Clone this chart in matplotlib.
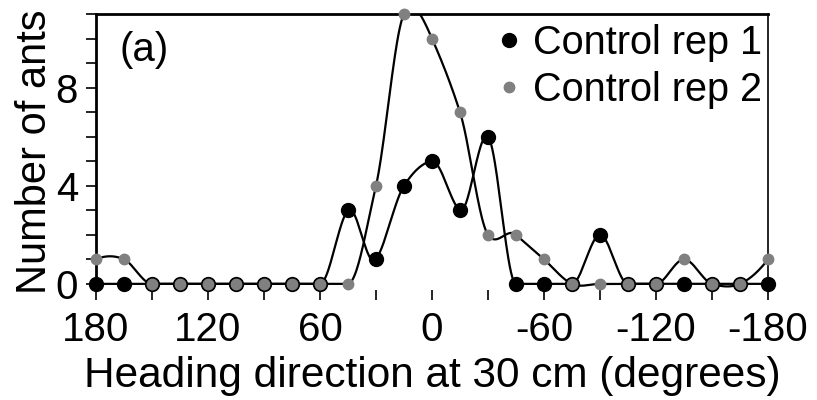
import numpy as np
import matplotlib
matplotlib.use("Agg")
import matplotlib.pyplot as plt
from matplotlib.ticker import MultipleLocator

plt.rcParams["font.family"] = ["Liberation Sans", "DejaVu Sans"]

# Data
heading = [180, 165, 150, 135, 120, 105, 90, 75, 60, 45, 30, 15, 0,
           -15, -30, -45, -60, -75, -90, -105, -120, -135, -150, -165, -180]
rep1 = [0, 0, 0, 0, 0, 0, 0, 0, 0, 3, 1, 4, 5, 3, 6, 0, 0, 0, 2, 0, 0, 0, 0, 0, 0]
rep2 = [1, 1, 0, 0, 0, 0, 0, 0, 0, 0, 4, 11, 10, 7, 2, 2, 1, 0, 0, 0, 0, 1, 0, 0, 1]
x_ticks = [180, 120, 60, 0, -60, -120, -180]
y_ticks = [0, 4, 8]


def akima(x, y, n=40):
    # Akima spline through the points, x must be increasing
    x = np.asarray(x, float)
    y = np.asarray(y, float)
    m = np.diff(y) / np.diff(x)
    m = np.concatenate([[3 * m[0] - 2 * m[1], 2 * m[0] - m[1]], m,
                        [2 * m[-1] - m[-2], 3 * m[-1] - 2 * m[-2]]])
    w1 = np.abs(m[3:] - m[2:-1])
    w2 = np.abs(m[1:-2] - m[:-3])
    den = w1 + w2
    t = np.where(den > 1e-12, (w1 * m[1:-2] + w2 * m[2:-1]) / np.where(den > 1e-12, den, 1),
                 0.5 * (m[1:-2] + m[2:-1]))
    xs, ys = [], []
    for i in range(len(x) - 1):
        h = x[i + 1] - x[i]
        s = np.linspace(0, 1, n, endpoint=False)
        h00 = 2 * s**3 - 3 * s**2 + 1
        h10 = s**3 - 2 * s**2 + s
        h01 = -2 * s**3 + 3 * s**2
        h11 = s**3 - s**2
        xs.append(x[i] + s * h)
        ys.append(h00 * y[i] + h10 * h * t[i] + h01 * y[i + 1] + h11 * h * t[i + 1])
    xs.append([x[-1]])
    ys.append([y[-1]])
    return np.concatenate(xs), np.concatenate(ys)


fig = plt.figure(figsize=(8.17, 4.0), dpi=100)
ax = fig.add_axes([0.1175, 0.275, 0.8225, 0.69])

xa = heading[::-1]
for vals in (rep1, rep2):
    sx, sy = akima(xa, vals[::-1])
    ax.plot(sx, sy, color="black", lw=1.6, zorder=2)

ax.plot(heading, rep1, "o", color="black", ms=10, ls="none", zorder=3,
        clip_on=False, label="Control rep 1")
ax.plot(heading, rep2, "o", color="#808080", ms=7.5, ls="none", zorder=4,
        clip_on=False, label="Control rep 2")

ax.set_xlim(180, -180)
ax.set_ylim(-0.25, 11)
ax.set_xticks(x_ticks)
ax.set_xticklabels([str(v) for v in x_ticks])
ax.xaxis.set_minor_locator(MultipleLocator(30))
ax.set_yticks(y_ticks)
ax.yaxis.set_minor_locator(MultipleLocator(1))
ax.tick_params(axis="both", which="both", direction="out", length=7, width=1.2,
               labelsize=29)
ax.tick_params(axis="x", which="major", pad=8)
ax.tick_params(axis="y", which="major", pad=6)

ax.spines["bottom"].set_visible(False)
ax.spines["left"].set_linewidth(2)
ax.spines["top"].set_linewidth(2)
ax.spines["right"].set_linewidth(1.2)

ax.set_xlabel("Heading direction at 30 cm (degrees)", fontsize=30.5, labelpad=5)
ax.set_ylabel("Number of ants", fontsize=30, labelpad=0)
ax.text(0.035, 0.94, "(a)", transform=ax.transAxes, fontsize=29, va="top")

ax.legend(loc="upper right", bbox_to_anchor=(1.0, 0.985), frameon=False,
          fontsize=28.5, handletextpad=0.2, borderaxespad=0.05,
          labelspacing=0.22, markerfirst=True, borderpad=0.1,
          handlelength=0.8)

fig.savefig("out.png", dpi=100)
